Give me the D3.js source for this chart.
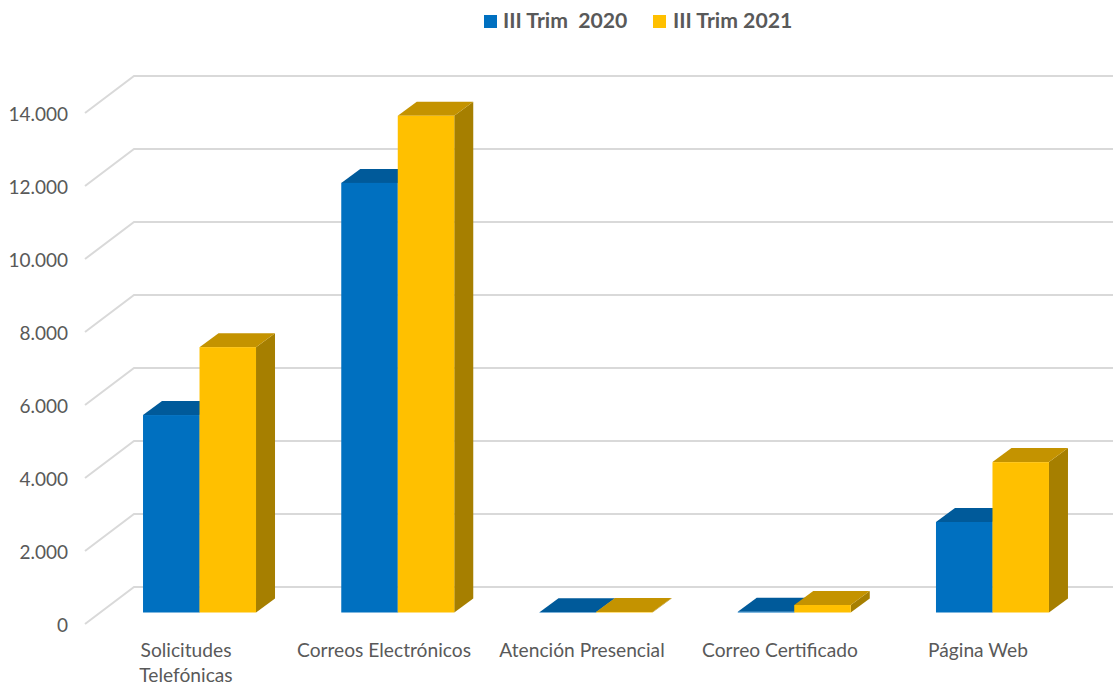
<!DOCTYPE html>
<html><head><meta charset="utf-8">
<script src="https://cdn.jsdelivr.net/npm/d3@7"></script>
<style>html,body{margin:0;padding:0;background:#fff;overflow:hidden}svg{display:block}text{font-family:Lato,"Open Sans",sans-serif;fill:#595959}</style>
</head><body><svg id="c" width="1113" height="683"></svg>
<script>
const categories=["Solicitudes\nTelefónicas","Correos Electrónicos","Atención Presencial","Correo Certificado","Página Web"];
const seriesNames=["III Trim  2020","III Trim 2021"];
const values2020=[5410,11770,10,20,2480];
const values2021=[7270,13610,15,205,4120];
const tickValues=[0,2000,4000,6000,8000,10000,12000,14000];
const colors={front:["#0070C0","#FFC000"],top:["#005A9A","#C49300"],side:["#004F86","#A67F00"]};

const svg=d3.select("#c");
const W=1113,fullDepth=[49,-37],barDepth=[19,-14];
const baseFront=624,plotH=511,maxV=14000;
const y=d3.scaleLinear().domain([0,maxV]).range([baseFront,baseFront-plotH]);
const fmt=d3.formatLocale({decimal:",",thousands:".",grouping:[3],currency:["","€"]}).format(",d");

// walls: gridlines
const grid=svg.append("g").attr("fill","none").attr("stroke","#D9D9D9").attr("stroke-width",2);
tickValues.forEach(v=>{
  grid.append("path").attr("d",d3.line()([[85,y(v)],[85+fullDepth[0],y(v)+fullDepth[1]],[W,y(v)+fullDepth[1]]]));
});

// value axis labels
const axis=d3.axisLeft(y).tickValues(tickValues).tickFormat(fmt).tickSize(0).tickPadding(0);
const ag=svg.append("g").attr("transform","translate(68,1)").call(axis);
ag.select(".domain").remove();
ag.selectAll("text").attr("font-size",19).style("font-family","Lato").attr("fill","#595959");

// bars
const x0=d3.scaleBand().domain(categories).range([100.4,1091.6]).paddingInner(0.43).paddingOuter(0.215);
const x1=d3.scaleBand().domain([0,1]).range([0,x0.bandwidth()]);
const yb=v=>y(v)-11.5;
const bars=svg.append("g");
[values2020,values2021].forEach((vals,s)=>{
  categories.forEach((c,i)=>{
    const l=x0(c)+x1(s),r=l+x1.bandwidth(),t=yb(vals[i]),b=yb(0),dx=barDepth[0],dy=barDepth[1];
    bars.append("path").attr("fill",colors.side[s]).attr("d",d3.line()([[r,t],[r+dx,t+dy],[r+dx,b+dy],[r,b]])+"Z");
    bars.append("path").attr("fill",colors.top[s]).attr("d",d3.line()([[l,t],[l+dx,t+dy],[r+dx,t+dy],[r,t]])+"Z");
    bars.append("rect").attr("x",l).attr("y",t).attr("width",r-l).attr("height",b-t).attr("fill",colors.front[s]);
  });
});

// category labels
const xl=d3.scaleBand().domain(categories).range([87,1077]);
const cg=svg.append("g").attr("font-size",19.2).attr("text-anchor","middle");
categories.forEach(c=>{
  c.split("\n").forEach((t,j)=>{
    cg.append("text").attr("x",xl(c)+xl.bandwidth()/2).attr("y",657+j*24.5).text(t);
  });
});

// legend
const lx=[484,653],tx=[503,673];
seriesNames.forEach((n,i)=>{
  svg.append("rect").attr("x",lx[i]).attr("y",15).attr("width",13).attr("height",13).attr("fill",colors.front[i]);
  svg.append("text").attr("x",tx[i]).attr("y",28).attr("font-size",21.2).attr("font-weight",700).style("white-space","pre").text(n);
});
</script></body></html>
